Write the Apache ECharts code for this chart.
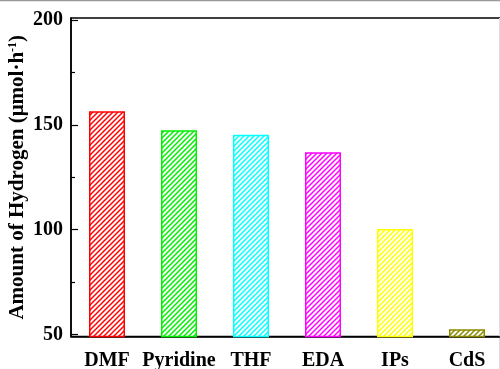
<!DOCTYPE html>
<html><head><meta charset="utf-8">
<script src="https://cdn.jsdelivr.net/npm/echarts@6/dist/echarts.min.js"></script>
<style>html,body{margin:0;padding:0;background:#fff}#c{width:500px;height:369px}</style>
</head><body><div id="c"></div>
<script>
const categories = ['DMF', 'Pyridine', 'THF', 'EDA', 'IPs', 'CdS'];
const values = [156.5, 147.4, 145.3, 136.9, 100.3, 52.5];
const colors = ['#ff0000', '#00ee00', '#00ffff', '#ff00ff', '#ffff00', '#8b8b00'];
const majorTicks = [50, 100, 150, 200];
const minorTicks = [75, 125, 175];

function hatch(color) {
  const s = 5;
  const c = document.createElement('canvas');
  c.width = s; c.height = s;
  const g = c.getContext('2d');
  g.fillStyle = '#fff'; g.fillRect(0, 0, s, s);
  g.strokeStyle = color; g.lineWidth = 1.5;
  g.beginPath();
  g.moveTo(-1, s + 1); g.lineTo(s + 1, -1);
  g.moveTo(-1, 1); g.lineTo(1, -1);
  g.moveTo(s - 1, s + 1); g.lineTo(s + 1, s - 1);
  g.stroke();
  return { image: c, repeat: 'repeat' };
}

const font = '"Liberation Serif", "Times New Roman", serif';
const chart = echarts.init(document.getElementById('c'), null, { renderer: 'canvas' });
chart.setOption({
  animation: false,
  backgroundColor: '#fff',
  grid: { left: 71, top: 18, width: 432, height: 318.5, show: true, borderColor: '#000', borderWidth: 1.5, backgroundColor: 'transparent', containLabel: false, outerBoundsMode: 'none' },
  xAxis: {
    type: 'category', data: categories,
    axisLine: { lineStyle: { color: '#000', width: 1.5 } },
    axisTick: { show: false },
    axisLabel: { color: '#000', fontFamily: font, fontWeight: 'bold', fontSize: 20, margin: 14, interval: 0, hideOverlap: false }
  },
  yAxis: [{
    type: 'value', min: 49, max: 201,
    splitLine: { show: false },
    axisLine: { show: true, lineStyle: { color: '#000', width: 1.5 } },
    axisTick: { show: true, inside: true, length: 7, customValues: majorTicks, lineStyle: { color: '#000', width: 1.2 } },
    axisLabel: { color: '#000', fontFamily: font, fontWeight: 'bold', fontSize: 20, margin: 8, customValues: majorTicks },
    name: '{t|Amount of Hydrogen (μmol·h}{s|-1}{t|)}',
    nameLocation: 'middle', nameGap: 42, nameRotate: 90, nameMoveOverlap: false,
    nameTextStyle: {
      rich: {
        t: { fontFamily: font, fontWeight: 'bold', fontSize: 21, color: '#000' },
        s: { fontFamily: font, fontWeight: 'bold', fontSize: 12, color: '#000', verticalAlign: 'top', padding: [0, 0, 10, 0] }
      }
    }
  }, {
    type: 'value', min: 49, max: 201, position: 'left',
    splitLine: { show: false },
    axisLine: { show: false },
    axisTick: { show: true, inside: true, length: 4, customValues: minorTicks, lineStyle: { color: '#000', width: 1.2 } },
    axisLabel: { show: false }
  }],
  series: [{
    type: 'bar', barWidth: '50%',
    data: values.map((v, i) => ({
      value: v,
      itemStyle: { color: hatch(colors[i]), borderColor: colors[i], borderWidth: 1.5 }
    }))
  }],
  graphic: [
    { type: 'line', shape: { x1: 0, y1: 0.5, x2: 500, y2: 0.5 }, style: { stroke: '#999', lineWidth: 1.5 }, silent: true },
    { type: 'line', shape: { x1: 499.5, y1: 18, x2: 499.5, y2: 369 }, style: { stroke: '#ddd', lineWidth: 1 }, silent: true }
  ]
});
</script></body></html>
